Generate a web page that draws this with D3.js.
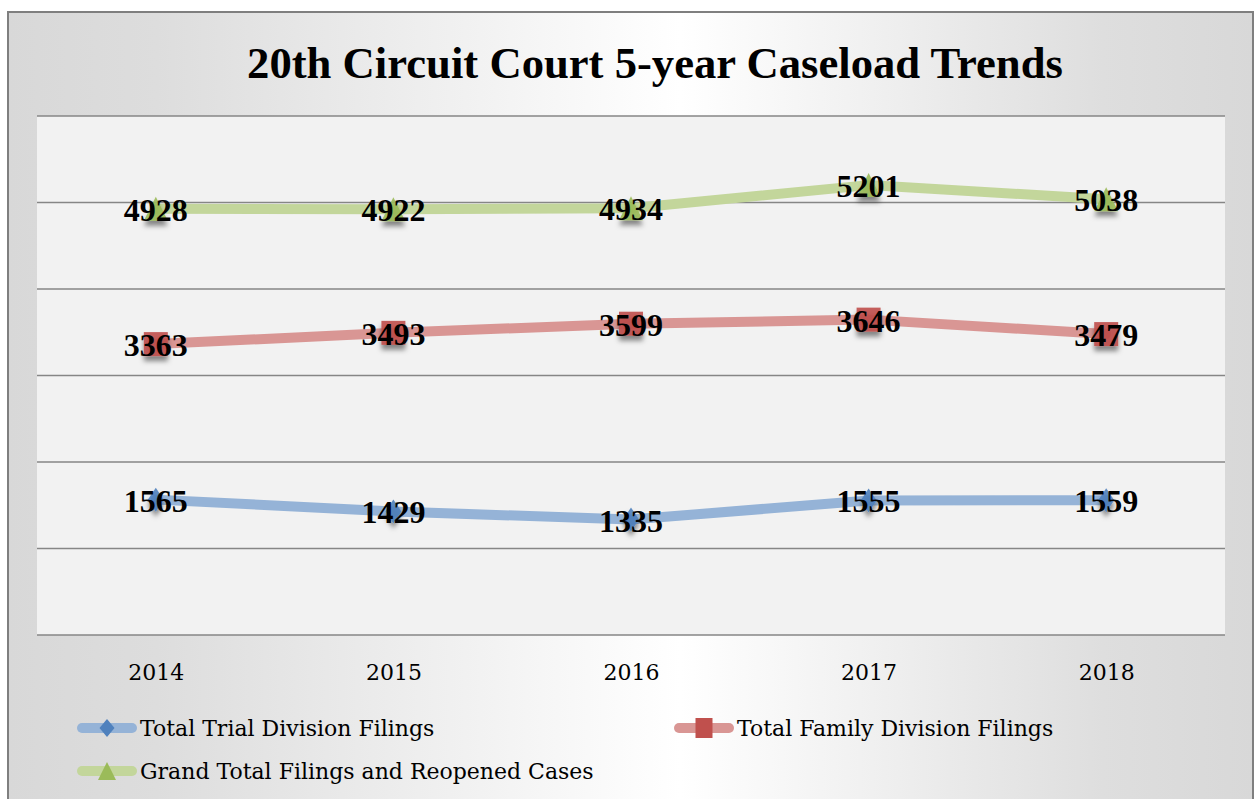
<!DOCTYPE html>
<html>
<head>
<meta charset="utf-8">
<script src="https://cdn.jsdelivr.net/npm/d3@7"></script>
<style>
  body { margin: 0; background: #ffffff; }
  svg { display: block; }
</style>
</head>
<body>
<div id="chart"></div>
<script>
// data
var years = ["2014", "2015", "2016", "2017", "2018"];
var trialFilings = [1565, 1429, 1335, 1555, 1559];
var familyFilings = [3363, 3493, 3599, 3646, 3479];
var grandTotal = [4928, 4922, 4934, 5201, 5038];
var seriesNames = ["Total Trial Division Filings", "Total Family Division Filings", "Grand Total Filings and Reopened Cases"];
var yTicks = [0, 1000, 2000, 3000, 4000, 5000, 6000];

var W = 1256, H = 799;
var plot = {left: 37, right: 1225, top: 116, bottom: 635};

var svg = d3.select("#chart").append("svg")
  .attr("width", W).attr("height", H);

var defs = svg.append("defs");
var grad = defs.append("linearGradient").attr("id", "bg")
  .attr("x1", "0%").attr("x2", "100%").attr("y1", "0%").attr("y2", "0%");
grad.append("stop").attr("offset", "0%").attr("stop-color", "#d8d8d8");
grad.append("stop").attr("offset", "12%").attr("stop-color", "#dddddd");
grad.append("stop").attr("offset", "54%").attr("stop-color", "#ffffff");
grad.append("stop").attr("offset", "88%").attr("stop-color", "#dedede");
grad.append("stop").attr("offset", "100%").attr("stop-color", "#d8d8d8");

// marker shadow
var shadow = defs.append("filter").attr("id", "shadow")
  .attr("x", "-100%").attr("y", "-100%").attr("width", "300%").attr("height", "300%");
shadow.append("feDropShadow").attr("dx", 0).attr("dy", 5).attr("stdDeviation", 2.5)
  .attr("flood-color", "#000").attr("flood-opacity", 0.5);

// chart frame
svg.append("rect")
  .attr("x", 8).attr("y", 12).attr("width", 1245).attr("height", 800)
  .attr("fill", "url(#bg)").attr("stroke", "#7f7f7f").attr("stroke-width", 2);

// plot area
svg.append("rect")
  .attr("x", plot.left).attr("y", plot.top)
  .attr("width", plot.right - plot.left).attr("height", plot.bottom - plot.top)
  .attr("fill", "#f2f2f2");

var x = d3.scalePoint().domain(years).range([plot.left, plot.right]).padding(0.5);
var y = d3.scaleLinear().domain([0, 6000]).range([plot.bottom, plot.top]);

// gridlines
svg.append("g").selectAll("line").data(yTicks).enter().append("line")
  .attr("x1", plot.left).attr("x2", plot.right)
  .attr("y1", function(d) { return y(d); }).attr("y2", function(d) { return y(d); })
  .attr("stroke", "#868686").attr("stroke-width", 1.5);

// x axis labels
var xAxis = svg.append("g")
  .attr("transform", "translate(0," + plot.bottom + ")")
  .call(d3.axisBottom(x).tickSize(0).tickPadding(0));
xAxis.select(".domain").remove();
xAxis.selectAll("text")
  .attr("y", 45).attr("dy", null)
  .style("font-family", "'DejaVu Serif', serif")
  .style("font-size", "22px")
  .attr("fill", "#000");

// title
var title = svg.append("text")
  .attr("x", 655).attr("y", 78)
  .attr("text-anchor", "middle")
  .style("font-family", "'Liberation Serif', serif")
  .style("font-weight", "bold")
  .style("font-size", "44px")
  .text("20th Circuit Court 5-year Caseload Trends");
var tw = title.node().getComputedTextLength();
title.style("font-size", (44 * 816 / tw) + "px");

var series = [
  {name: seriesNames[0], values: trialFilings, line: "#95b3d7", mark: "#4f81bd", shape: "diamond"},
  {name: seriesNames[1], values: familyFilings, line: "#d99694", mark: "#c0504d", shape: "square"},
  {name: seriesNames[2], values: grandTotal, line: "#c3d69b", mark: "#9bbb59", shape: "triangle"}
];

// marker outline, w x h box centred on 0,0
function symbolFor(shape, w, h) {
  var p = d3.path();
  if (shape === "diamond") {
    p.moveTo(0, -h / 2); p.lineTo(w / 2, 0); p.lineTo(0, h / 2); p.lineTo(-w / 2, 0);
  } else if (shape === "square") {
    p.rect(-w / 2, -h / 2, w, h);
  } else {
    p.moveTo(0, -h / 2); p.lineTo(w / 2, h / 2); p.lineTo(-w / 2, h / 2);
  }
  p.closePath();
  return p.toString();
}
var plotSize = {diamond: [16, 24], square: [24, 24], triangle: [24, 24]};
var legendSize = {diamond: [15, 18], square: [17, 20], triangle: [18, 18]};

var line = d3.line()
  .x(function(d, i) { return x(years[i]); })
  .y(function(d) { return y(d); });

series.forEach(function(s) {
  var g = svg.append("g");
  g.append("path")
    .datum(s.values)
    .attr("d", line)
    .attr("fill", "none")
    .attr("stroke", s.line)
    .attr("stroke-width", 10)
    .attr("stroke-linejoin", "round")
    .attr("stroke-linecap", "round");
  var sz = plotSize[s.shape];
  g.selectAll("path.mk").data(s.values).enter().append("path")
    .attr("class", "mk")
    .attr("d", symbolFor(s.shape, sz[0], sz[1]))
    .attr("transform", function(d, i) { return "translate(" + x(years[i]) + "," + y(d) + ")"; })
    .attr("fill", s.mark)
    .attr("fill-opacity", 0.9)
    .attr("filter", "url(#shadow)");
  g.selectAll("text").data(s.values).enter().append("text")
    .attr("x", function(d, i) { return x(years[i]); })
    .attr("y", function(d) { return y(d) + 12; })
    .attr("text-anchor", "middle")
    .style("font-family", "'Liberation Serif', serif")
    .style("font-weight", "bold")
    .style("font-size", "32px")
    .attr("fill", "#000")
    .text(function(d) { return d; });
});

// legend
var legendPos = [
  {x: 77, y: 728},
  {x: 674, y: 728},
  {x: 77, y: 771}
];
series.forEach(function(s, i) {
  var p = legendPos[i];
  var lg = svg.append("g").attr("transform", "translate(" + p.x + "," + p.y + ")");
  lg.append("line")
    .attr("x1", 5).attr("x2", 55).attr("y1", 0).attr("y2", 0)
    .attr("stroke", s.line).attr("stroke-width", 10).attr("stroke-linecap", "round");
  var sz = legendSize[s.shape];
  lg.append("path")
    .attr("d", symbolFor(s.shape, sz[0], sz[1]))
    .attr("transform", "translate(30,0)")
    .attr("fill", s.mark);
  lg.append("text")
    .attr("x", 63).attr("y", 8)
    .style("font-family", "'DejaVu Serif', serif")
    .style("font-size", "22px")
    .attr("fill", "#000")
    .text(s.name);
});
</script>
</body>
</html>
